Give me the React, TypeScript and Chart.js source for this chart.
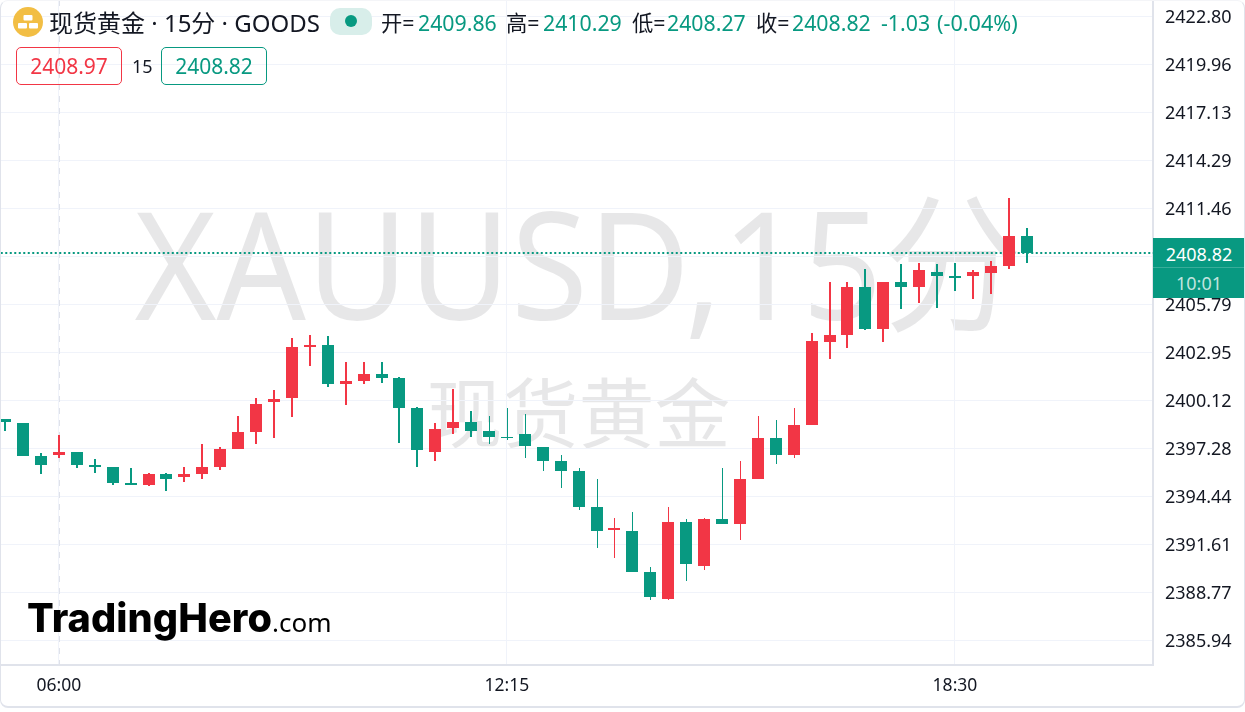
import React, { useEffect, useRef } from "react";
import { Chart, registerables } from "chart.js";

Chart.register(...registerables);

const xPositions = [3, 28, 53];
const xLabels = ["06:00", "12:15", "18:30"];
const yTicks = [2385.94, 2388.77, 2391.61, 2394.44, 2397.28, 2400.12, 2402.95, 2405.79, 2408.62, 2411.46, 2414.29, 2417.13, 2419.96, 2422.8];

const opens = [2399.02, 2398.78, 2396.83, 2396.89, 2397.07, 2396.3, 2396.18, 2395.24, 2395.12, 2395.77, 2395.59, 2395.77, 2396.18, 2397.25, 2398.25, 2400.02, 2400.26, 2403.27, 2403.39, 2401.09, 2401.26, 2401.68, 2401.44, 2399.67, 2397.07, 2398.49, 2398.84, 2398.31, 2397.96, 2398.13, 2397.37, 2396.54, 2395.95, 2393.82, 2392.46, 2392.4, 2389.98, 2388.39, 2392.94, 2390.33, 2393.11, 2392.82, 2395.48, 2397.9, 2396.89, 2398.67, 2403.57, 2403.98, 2406.82, 2404.34, 2407.11, 2406.82, 2407.7, 2407.46, 2407.46, 2407.64, 2408.06, 2409.86];
const highs = [2399.02, 2398.78, 2397.01, 2398.07, 2397.07, 2396.66, 2396.18, 2396.12, 2395.83, 2395.83, 2396.18, 2397.54, 2397.37, 2399.2, 2400.26, 2400.73, 2403.8, 2403.98, 2403.92, 2402.39, 2402.39, 2402.39, 2401.5, 2399.73, 2398.78, 2400.79, 2399.49, 2399.2, 2399.67, 2399.32, 2397.37, 2396.89, 2396.12, 2395.48, 2393.17, 2393.52, 2390.27, 2393.82, 2393.11, 2393.17, 2396.12, 2396.54, 2399.2, 2398.96, 2399.67, 2404.1, 2407.11, 2407.11, 2407.88, 2407.11, 2408.18, 2408.23, 2408.18, 2408.23, 2407.82, 2408.35, 2412.07, 2410.29];
const lows = [2398.31, 2396.83, 2395.77, 2396.72, 2396.12, 2395.83, 2395.12, 2395.12, 2395.06, 2394.77, 2395.3, 2395.48, 2396.01, 2397.25, 2397.54, 2397.9, 2399.14, 2402.15, 2400.91, 2399.85, 2401.09, 2401.15, 2397.6, 2396.18, 2396.54, 2398.13, 2397.96, 2397.54, 2397.78, 2396.72, 2395.95, 2394.94, 2393.64, 2391.4, 2390.81, 2389.98, 2388.33, 2388.33, 2389.45, 2390.1, 2392.82, 2391.87, 2395.48, 2396.36, 2396.72, 2398.67, 2402.56, 2403.21, 2404.28, 2403.57, 2405.52, 2405.87, 2405.58, 2406.58, 2406.11, 2406.4, 2407.88, 2408.27];
const closes = [2398.84, 2396.83, 2396.3, 2397.07, 2396.3, 2396.18, 2395.24, 2395.12, 2395.77, 2395.48, 2395.77, 2396.18, 2397.25, 2398.25, 2399.91, 2400.2, 2403.27, 2403.39, 2401.09, 2401.26, 2401.68, 2401.44, 2399.67, 2397.19, 2398.43, 2398.84, 2398.31, 2397.96, 2397.9, 2397.43, 2396.54, 2395.95, 2393.82, 2392.4, 2392.58, 2389.98, 2388.51, 2392.94, 2390.45, 2393.11, 2392.82, 2395.48, 2397.9, 2396.89, 2398.67, 2403.63, 2403.98, 2406.82, 2404.34, 2407.11, 2406.82, 2407.82, 2407.46, 2407.35, 2407.7, 2408.06, 2409.85, 2408.82];

const GREEN = "#089981";
const RED = "#F23645";
const GRID = "#f0f3fa";
const AXIS = "#e0e3eb";
const FONT = '"Noto Sans", "Noto Sans CJK SC", sans-serif';
const THIN_WICK_FROM = 27;
const THIN_WICK_TO = 44;

const colors = opens.map((o, i) => (closes[i] > o ? RED : GREEN));
const colorOf = (ctx: any) => colors[ctx.raw ? ctx.raw.x : 0];
const isThin = (i: number) => i >= THIN_WICK_FROM && i <= THIN_WICK_TO;
const last = closes.length - 1;
const wick = (i: number) => ({ x: i, y: [lows[i], highs[i]] });
const indexes = opens.map((_, i) => i);

// keeps bars crisp, as the original is drawn on whole pixels
const snapBars = {
  id: "snapBars",
  beforeDatasetsDraw(chart: any) {
    chart.data.datasets.forEach((ds: any, d: number) => {
      const meta = chart.getDatasetMeta(d);
      if (ds.type === "line") {
        meta.data.forEach((pt: any) => {
          pt.y = Math.round(pt.y);
        });
        return;
      }
      meta.data.forEach((el: any) => {
        if (el.skip || el.width == null) return;
        let cx = Math.round(el.x);
        if (ds.barThickness % 2 === 1) cx += 0.5;
        el.x = cx;
        const top = Math.round(Math.min(el.y, el.base));
        let bottom = Math.round(Math.max(el.y, el.base));
        if (bottom === top) bottom = top + 1;
        el.y = top;
        el.base = bottom;
        el.height = bottom - top;
      });
    });
  },
};

// the value-axis labels sit slightly below the grid line in the original
const labelNudge = {
  id: "labelNudge",
  beforeDraw(chart: any) {
    chart.scales.y.getLabelItems(chart.chartArea).forEach((item: any) => {
      if (item.options.translation && !item.nudged) {
        item.options.translation = [item.options.translation[0], item.options.translation[1] + 1.5];
        item.nudged = true;
      }
    });
  },
};

const crosshair = {
  id: "crosshair",
  beforeDatasetsDraw(chart: any) {
    const { ctx, chartArea, scales } = chart;
    const x = Math.round(scales.x.getPixelForValue(xPositions[0])) + 0.5;
    ctx.save();
    ctx.strokeStyle = "#dfe2ea";
    ctx.lineWidth = 1;
    ctx.setLineDash([6, 6]);
    ctx.beginPath();
    ctx.moveTo(x, chartArea.top);
    ctx.lineTo(x, chartArea.bottom);
    ctx.stroke();
    ctx.restore();
  },
};

const labelStyle = (left: number, top: number, size: number, color: string): React.CSSProperties => ({
  position: "absolute",
  left,
  top,
  fontSize: size,
  lineHeight: "28px",
  height: 28,
  color,
  whiteSpace: "nowrap",
  fontFamily: FONT,
});

const noPadding = (scale: any) => {
  scale.paddingTop = 0;
  scale.paddingBottom = 0;
  scale.paddingLeft = 0;
  scale.paddingRight = 0;
};

export default function App() {
  const ref = useRef<HTMLCanvasElement>(null);

  useEffect(() => {
    document.body.style.margin = "0";
    const chart = new Chart(ref.current as HTMLCanvasElement, {
      type: "bar",
      data: {
        datasets: [
          {
            type: "line",
            data: [
              { x: -1, y: closes[last] },
              { x: 65, y: closes[last] },
            ],
            borderColor: GREEN,
            borderWidth: 2,
            borderDash: [2, 2.5],
            pointRadius: 0,
            order: 3,
          },
          {
            data: indexes.filter((i) => !isThin(i)).map(wick),
            backgroundColor: colorOf,
            barThickness: 2,
            grouped: false,
            inflateAmount: 0,
            borderSkipped: false,
            order: 2,
          },
          {
            data: indexes.filter(isThin).map(wick),
            backgroundColor: colorOf,
            barThickness: 1,
            grouped: false,
            inflateAmount: 0,
            borderSkipped: false,
            order: 2,
          },
          {
            data: indexes.map((i) => ({ x: i, y: [opens[i], closes[i]] })),
            backgroundColor: colorOf,
            barThickness: 12,
            grouped: false,
            inflateAmount: 0,
            borderSkipped: false,
            order: 1,
          },
        ] as any,
      },
      plugins: [crosshair, snapBars, labelNudge],
      options: {
        responsive: false,
        animation: false,
        maintainAspectRatio: false,
        layout: { padding: 0, autoPadding: false },
        plugins: { legend: { display: false }, tooltip: { enabled: false } },
        events: [],
        scales: {
          x: {
            type: "linear",
            offset: false,
            min: -0.289,
            max: 64.05,
            afterBuildTicks(scale: any) {
              scale.ticks = xPositions.map((value) => ({ value }));
            },
            afterFit(scale: any) {
              scale.height = 47;
              noPadding(scale);
            },
            grid: { color: GRID, drawTicks: false, offset: false },
            border: { color: AXIS, width: 2 },
            ticks: {
              autoSkip: false,
              maxRotation: 0,
              padding: 11,
              color: "#131722",
              font: { family: FONT, size: 17.5 },
              callback: (v: any) => xLabels[xPositions.indexOf(v)],
            },
          },
          y: {
            type: "linear",
            position: "right",
            min: 2384.496,
            max: 2423.776,
            afterBuildTicks(scale: any) {
              scale.ticks = yTicks.map((value) => ({ value }));
            },
            afterFit(scale: any) {
              scale.width = 92;
              noPadding(scale);
            },
            grid: { color: GRID, drawTicks: false },
            border: { color: AXIS, width: 2 },
            ticks: {
              autoSkip: false,
              padding: 12,
              color: "#131722",
              font: { family: FONT, size: 18 },
              callback: (v: any) => Number(v).toFixed(2),
            },
          },
        },
      } as any,
    });
    return () => chart.destroy();
  }, []);

  const ohlc: [string, number, string, number][] = [
    ["开=", 381, opens[last].toFixed(2), 418],
    ["高=", 506, highs[last].toFixed(2), 543],
    ["低=", 632, lows[last].toFixed(2), 667],
    ["收=", 756, closes[last].toFixed(2), 792],
  ];

  return (
    <div style={{ position: "absolute", left: 0, top: 0, width: 1245, height: 712, background: "#fff", overflow: "hidden", fontFamily: FONT }}>
      <div style={{ position: "absolute", left: 0, top: 0, width: 1153, height: 665, overflow: "hidden", color: "rgba(19,23,34,0.1)", textAlign: "center", whiteSpace: "nowrap" }}>
        <div style={{ position: "absolute", left: 2, width: 1153, top: 162, fontSize: 150, lineHeight: "200px", transform: "scaleX(0.934)" }}>XAUUSD,15分</div>
        <div style={{ position: "absolute", left: 2, width: 1153, top: 363, fontSize: 76, lineHeight: "100px" }}>现货黄金</div>
      </div>
      <canvas ref={ref} width={1245} height={712} style={{ position: "absolute", left: 0, top: 0, width: 1245, height: 712 }} />

      <svg width="32" height="32" viewBox="0 0 32 32" style={{ position: "absolute", left: 12, top: 6 }}>
        <circle cx="16" cy="16" r="15" fill="#F2BE44" />
        <rect x="11.5" y="9" width="9" height="5.5" rx="1" fill="#fff" />
        <rect x="6" y="17" width="9" height="5.5" rx="1" fill="#fff" />
        <rect x="17" y="17" width="9" height="5.5" rx="1" fill="#fff" />
      </svg>
      <div style={labelStyle(49, 9, 24, "#131722")}>现货黄金 · 15分 · GOODS</div>
      <div style={{ position: "absolute", left: 330, top: 8, width: 42, height: 27, borderRadius: 10, background: "#d8eeea" }}>
        <div style={{ position: "absolute", left: 15, top: 7, width: 12, height: 12, borderRadius: 6, background: GREEN }} />
      </div>
      {ohlc.map(([name, nx, val, vx]) => (
        <React.Fragment key={name}>
          <div style={labelStyle(nx, 9, 21.3, "#131722")}>{name}</div>
          <div style={labelStyle(vx, 9, 21.3, GREEN)}>{val}</div>
        </React.Fragment>
      ))}
      <div style={labelStyle(881, 9, 21.3, GREEN)}>-1.03</div>
      <div style={labelStyle(937, 9, 21.6, GREEN)}>(-0.04%)</div>

      <div style={{ position: "absolute", left: 16, top: 47, width: 104, height: 36, border: `1px solid ${RED}`, borderRadius: 5, color: RED, fontSize: 21, lineHeight: "37px", textAlign: "center" }}>2408.97</div>
      <div style={labelStyle(132, 52, 18, "#131722")}>15</div>
      <div style={{ position: "absolute", left: 161, top: 47, width: 104, height: 36, border: `1px solid ${GREEN}`, borderRadius: 5, color: GREEN, fontSize: 21, lineHeight: "37px", textAlign: "center" }}>2408.82</div>

      <div style={{ position: "absolute", left: 1153, top: 238, width: 92, height: 60, background: GREEN, color: "#fff", textAlign: "center", fontSize: 18 }}>
        <div style={{ height: 30, lineHeight: "32px", borderBottom: "1px solid rgba(255,255,255,0.2)", boxSizing: "border-box" }}>{closes[last].toFixed(2)}</div>
        <div style={{ height: 30, lineHeight: "30px", color: "rgba(255,255,255,0.75)" }}>10:01</div>
      </div>

      <div style={{ position: "absolute", left: 27, top: 588, fontFamily: "Inter, Roboto, sans-serif", fontWeight: 800, fontSize: 39.6, lineHeight: "60px", color: "#000", whiteSpace: "nowrap", letterSpacing: 0.1 }}>
        TradingHero<span style={{ fontFamily: '"Noto Sans", sans-serif', fontWeight: 400, fontSize: 26, letterSpacing: 0 }}>.com</span>
      </div>

      <div style={{ position: "absolute", left: 0, top: 0, width: 1245, height: 708, boxSizing: "border-box", borderLeft: `1px solid ${AXIS}`, borderRight: `1px solid ${AXIS}`, borderBottom: `2px solid ${AXIS}`, borderTop: "1px solid #f4f5f8", borderRadius: 8 }} />
    </div>
  );
}
